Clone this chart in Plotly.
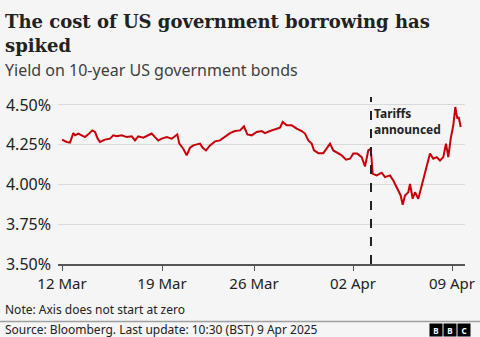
import plotly.graph_objects as go

# ---- data (trading-time index, 12 Mar = 0) ----
x_pos = [0, 4.7, 8, 11.3, 13, 16.3, 19.7, 23, 26.3, 30.3, 33, 35.7, 38, 43, 48, 51.3, 54.7,
         59.7, 64.7, 69.7, 73, 76.3, 81.3, 86.3, 89.7, 93, 96.3, 99.7,
         104.7, 109.7, 113, 115.3, 117.3, 121.3, 124.7, 128, 131.3, 138, 140.7, 144, 148,
         153, 158, 163, 168, 173, 178, 182, 185.3, 189.7, 194.7, 199.7, 203, 208,
         213, 218, 220.7, 224.7, 229.7, 234.7, 239.7, 243, 246.3, 249.7, 252, 256.3, 261.3,
         264.7, 268, 271.3, 276.3, 279.7, 284, 288, 291.3, 295.3, 299.7, 303, 306.3, 308.7,
         309.7, 310.7, 314.7, 319.7, 323, 328, 331.3, 336.3, 338.7, 340.7, 343, 346.3, 348,
         350.7, 353, 356.3, 359.7, 362, 364.7, 368, 371.3, 374.7, 378, 381.3, 384, 386.3,
         388.7, 391.3, 393.3, 395.3, 396.7, 398.7]
yield_pct = [4.282, 4.267, 4.263, 4.323, 4.309, 4.320, 4.309, 4.298, 4.315, 4.340, 4.330, 4.288,
             4.267, 4.282, 4.288, 4.309, 4.303, 4.309, 4.298, 4.303, 4.277, 4.303, 4.294, 4.309,
             4.320, 4.298, 4.277, 4.288,
             4.298, 4.288, 4.303, 4.315, 4.257, 4.225, 4.183, 4.231, 4.246, 4.257, 4.231, 4.214,
             4.246, 4.271, 4.277, 4.298, 4.323, 4.336, 4.340, 4.366, 4.315, 4.309, 4.330, 4.336,
             4.323, 4.336,
             4.347, 4.357, 4.393, 4.372, 4.372, 4.351, 4.336, 4.320, 4.277, 4.257, 4.214, 4.197,
             4.197, 4.225, 4.257, 4.214, 4.197, 4.183, 4.156, 4.162, 4.194, 4.194, 4.172, 4.113,
             4.214, 4.225,
             4.151, 4.067, 4.057, 4.074, 4.046, 4.057, 4.025, 3.962, 3.931, 3.872, 3.931, 3.951,
             4.004, 3.910, 3.951, 3.910, 3.994, 4.057, 4.131, 4.194, 4.162, 4.172, 4.151, 4.172,
             4.257, 4.172, 4.288, 4.372, 4.487, 4.414, 4.424, 4.361]

tick_vals = [0, 100, 192, 291, 390]
tick_text = ["12 Mar", "19 Mar", "26 Mar", "02 Apr", "09 Apr"]
y_ticks = [3.5, 3.75, 4.0, 4.25, 4.5]
y_text = ["3.50%", "3.75%", "4.00%", "4.25%", "4.50%"]
tariff_x = 309

# ---- layout helpers (pixel -> paper) ----
W, H = 480, 337
L, R, T, B = 58, 15, 97, 73
PW, PH = W - L - R, H - T - B
def px(x):
    return (x - L) / PW
def py(y):
    return (H - B - y) / PH

SANS = "Noto Sans"
fig = go.Figure()
fig.add_trace(go.Scatter(x=x_pos, y=yield_pct, mode="lines",
                         line=dict(color="#c8000a", width=2), hoverinfo="skip"))

fig.add_shape(type="line", x0=tariff_x, x1=tariff_x, xref="x", yref="paper", y0=0, y1=1.0,
              line=dict(color="#222222", width=2, dash="dash"))

ann = []
ann.append(dict(text="<b>The cost of US government borrowing has</b>", x=px(3), y=py(22),
                font=dict(family="DejaVu Serif", size=18, color="#222222")))
ann.append(dict(text="<b>spiked</b>", x=px(3), y=py(46),
                font=dict(family="DejaVu Serif", size=18, color="#222222")))
ann.append(dict(text="Yield on 10-year US government bonds", x=px(3), y=py(70),
                font=dict(family=SANS, size=16, color="#404040")))
ann.append(dict(text="<b>Tariffs</b><br><b>announced</b>", x=px(372), y=py(121),
                align="left",
                font=dict(family=SANS, size=12, color="#222222")))
ann.append(dict(text="Note: Axis does not start at zero", x=px(3), y=py(309),
                font=dict(family=SANS, size=12, color="#222222")))
ann.append(dict(text="Source: Bloomberg. Last update: 10:30 (BST) 9 Apr 2025", x=px(3), y=py(329),
                font=dict(family=SANS, size=12, color="#222222")))
annotations = []
for a in ann:
    a.update(xref="paper", yref="paper", xanchor="left", yanchor="middle", showarrow=False)
    annotations.append(a)
for i, letter in enumerate(["B", "B", "C"]):
    annotations.append(dict(text="<b>" + letter + "</b>", x=px(435.5 + 14 * i), y=py(329.5),
                            xref="paper", yref="paper", xanchor="center", yanchor="middle",
                            showarrow=False, bgcolor="#000000", width=10, height=10, borderpad=1,
                            font=dict(family=SANS, size=8, color="#ffffff")))

fig.add_shape(type="line", xref="paper", yref="paper", x0=px(0), x1=px(480), y0=py(321.5), y1=py(321.5),
              line=dict(color="#a0a0a0", width=1.5))

fig.update_layout(
    width=W, height=H, margin=dict(l=L, r=R, t=T, b=B, autoexpand=False),
    paper_bgcolor="#f5f5f5", plot_bgcolor="#f5f5f5",
    showlegend=False, annotations=annotations,
    xaxis=dict(range=[-4, 403], tickvals=tick_vals, ticktext=tick_text, showgrid=False,
               automargin=False,
               zeroline=False, showline=True, linecolor="#555555", linewidth=1.5,
               ticks="outside", ticklen=5, tickcolor="#555555", tickwidth=1,
               tickfont=dict(family=SANS, size=15, color="#222222")),
    yaxis=dict(range=[3.5, 4.55], tickvals=y_ticks, ticktext=y_text, showgrid=True,
               automargin=False,
               gridcolor="#dadada", gridwidth=1, zeroline=False, showline=False,
               tickfont=dict(family=SANS, size=16, color="#222222"), ticklabelstandoff=6),
)
fig.write_html("out.html")
